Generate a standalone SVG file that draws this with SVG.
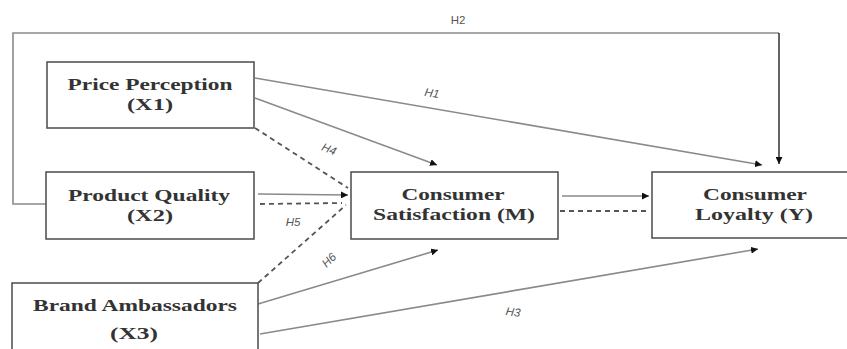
<svg xmlns="http://www.w3.org/2000/svg" width="847" height="349" viewBox="0 0 847 349">
<style>
.box{fill:#fff;stroke:#555;stroke-width:1.6}
.t{font-family:"Liberation Serif","Times New Roman",serif;font-size:17.5px;font-weight:bold;fill:#333;text-anchor:middle}
.l{fill:none;stroke:#8a8a8a;stroke-width:1.6}
.d{fill:none;stroke:#555;stroke-width:1.8;stroke-dasharray:5 4}
.h{font-family:"Liberation Sans",Arial,sans-serif;font-size:11.5px;fill:#555;text-anchor:middle;font-style:italic}
</style>
<defs>
<marker id="a" viewBox="0 0 10 10" refX="10" refY="5" markerWidth="7" markerHeight="7" markerUnits="userSpaceOnUse" orient="auto"><path d="M0,0 L10,5 L0,10 z" fill="#111"/></marker>
</defs>
<rect width="847" height="349" fill="#fff"/>
<g id="connectors">
<polyline class="l" points="46,204 13,204 13,33 779,33"/>
<line x1="779" y1="33" x2="779" y2="164" stroke="#222" stroke-width="1.4" marker-end="url(#a)"/>
<line class="l" x1="255" y1="78" x2="762" y2="165" marker-end="url(#a)"/>
<line class="l" x1="255" y1="98" x2="437" y2="165" marker-end="url(#a)"/>
<line class="d" x1="255" y1="128" x2="348" y2="188"/>
<line class="l" x1="258" y1="194" x2="348" y2="195" marker-end="url(#a)"/>
<line class="d" x1="260" y1="204" x2="342" y2="203"/>
<line class="d" x1="258" y1="283" x2="346" y2="205"/>
<line class="l" x1="258" y1="304" x2="438" y2="250" marker-end="url(#a)"/>
<line class="l" x1="260" y1="334" x2="758" y2="249" marker-end="url(#a)"/>
<line class="l" x1="562" y1="196" x2="649" y2="196" stroke="#666" marker-end="url(#a)"/>
<line class="d" x1="560" y1="211" x2="646" y2="211"/>
</g>
<g id="labels">
<text class="h" x="458" y="24" style="font-style:normal">H2</text>
<text class="h" x="432" y="97" transform="rotate(10 432 93)">H1</text>
<text class="h" x="329" y="153" transform="rotate(22 329 149)">H4</text>
<text class="h" x="293" y="226">H5</text>
<text class="h" x="329" y="264" transform="rotate(-45 329 260)">H6</text>
<text class="h" x="513" y="316" transform="rotate(8 513 312)">H3</text>
</g>
<g id="price">
<rect class="box" x="47" y="62" width="207" height="66"/>
<text class="t" x="150" y="90" textLength="165" lengthAdjust="spacingAndGlyphs">Price Perception</text>
<text class="t" x="150" y="110" textLength="46" lengthAdjust="spacingAndGlyphs">(X1)</text>
</g>
<g id="quality">
<rect class="box" x="46" y="172" width="208" height="67"/>
<text class="t" x="149" y="201" textLength="162" lengthAdjust="spacingAndGlyphs">Product Quality</text>
<text class="t" x="150" y="221" textLength="46" lengthAdjust="spacingAndGlyphs">(X2)</text>
</g>
<g id="brand">
<rect class="box" x="12" y="283" width="246" height="70"/>
<text class="t" x="135" y="311" textLength="204" lengthAdjust="spacingAndGlyphs">Brand Ambassadors</text>
<text class="t" x="134" y="339" textLength="48" lengthAdjust="spacingAndGlyphs">(X3)</text>
</g>
<g id="satisfaction">
<rect class="box" x="351" y="172" width="207" height="67"/>
<text class="t" x="453" y="200" textLength="103" lengthAdjust="spacingAndGlyphs">Consumer</text>
<text class="t" x="454" y="220" textLength="162" lengthAdjust="spacingAndGlyphs">Satisfaction (M)</text>
</g>
<g id="loyalty">
<rect class="box" x="652" y="172" width="210" height="66"/>
<text class="t" x="755" y="200" textLength="104" lengthAdjust="spacingAndGlyphs">Consumer</text>
<text class="t" x="754" y="220" textLength="118" lengthAdjust="spacingAndGlyphs">Loyalty (Y)</text>
</g>
</svg>
